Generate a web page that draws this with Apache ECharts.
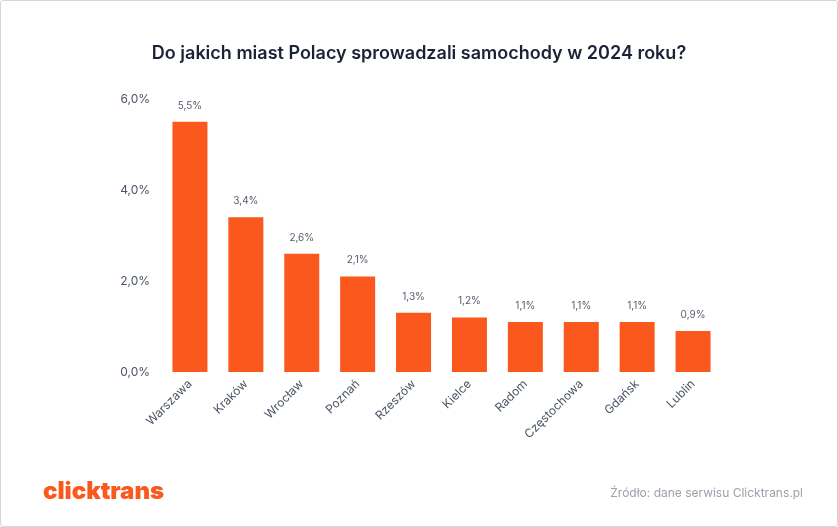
<!DOCTYPE html>
<html><head><meta charset="utf-8">
<script src="https://cdn.jsdelivr.net/npm/echarts@6/dist/echarts.min.js"></script>
<style>
html,body{margin:0;padding:0;background:#fff;}
#wrap{position:absolute;left:0;top:0;width:836px;height:525px;border:1px solid #d3d6dc;border-radius:3px;}
#c{position:absolute;left:0;top:0;width:838px;height:527px;}
</style></head>
<body><div id="wrap"></div><div id="c"></div>
<script>
const categories = ["Warszawa","Kraków","Wrocław","Poznań","Rzeszów","Kielce","Radom","Częstochowa","Gdańsk","Lublin"];
const values = [5.5, 3.4, 2.6, 2.1, 1.3, 1.2, 1.1, 1.1, 1.1, 0.9];
const yTicks = [0, 2, 4, 6];
const titleText = "Do jakich miast Polacy sprowadzali samochody w 2024 roku?";
const sourceText = "Źródło: dane serwisu Clicktrans.pl";
const logoText = "clicktrans";

const chart = echarts.init(document.getElementById('c'), null, {renderer:'canvas'});
const fmt = (v, d) => v.toFixed(d).replace('.', ',') + '%';
chart.setOption({
  animation:false,
  textStyle:{fontFamily:'Inter, "Noto Sans", sans-serif'},
  title:[
    {text:titleText, left:'center', top:40, textStyle:{fontSize:18, fontWeight:600, color:'#1b2236', fontFamily:'Inter, sans-serif'}},
    {text:logoText, left:38, top:475, textStyle:{fontSize:24, fontWeight:900, color:'#fa581c', fontFamily:'Inter, sans-serif', letterSpacing:-1.6}},
    {text:sourceText, right:30, top:482, textStyle:{fontSize:12, fontWeight:400, color:'#9ba1aa', fontFamily:'Inter, sans-serif'}}
  ],
  grid:{left:162, right:117, top:99, bottom:155},
  xAxis:{type:'category', data:categories,
    axisLine:{show:false}, axisTick:{show:false},
    axisLabel:{rotate:45, color:'#4a5366', fontSize:12, margin:10, interval:0}},
  yAxis:{type:'value', min:yTicks[0], max:yTicks[yTicks.length-1], interval:2,
    splitLine:{show:false}, axisLine:{show:false}, axisTick:{show:false},
    axisLabel:{color:'#4a5366', fontSize:12, margin:12, formatter:v=>fmt(v,1)}},
  series:[{type:'bar', data:values, barWidth:35,
    itemStyle:{color:'#fa581c'},
    label:{show:true, position:'top', distance:11, color:'#555d6c', fontSize:10, formatter:p=>fmt(p.value,1)}}]
});
</script></body></html>
